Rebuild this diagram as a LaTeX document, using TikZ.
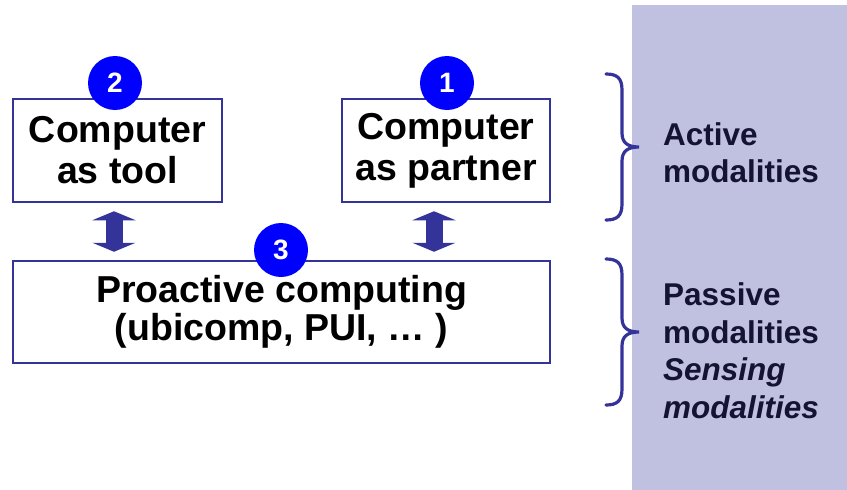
\documentclass[tikz,border=0pt]{standalone}
\usepackage{fontspec}
\setmainfont{Liberation Sans}
\usetikzlibrary{arrows.meta,calc}
\definecolor{boxblue}{HTML}{333399}
\definecolor{numblue}{HTML}{0000FF}
\definecolor{panelfill}{HTML}{C0C0E0}
\definecolor{paneltext}{HTML}{141432}
\begin{document}
\begin{tikzpicture}[x=1pt,y=-1pt,
  box/.style={draw=boxblue,line width=2.5pt,fill=white,inner sep=0pt,align=center,
    font=\fontsize{37.5}{41}\selectfont\bfseries},
  num/.style={circle,fill=numblue,inner sep=0pt,minimum size=54pt,text=white,
    font=\fontsize{28}{28}\selectfont\bfseries},
  dblarrow/.style={draw=boxblue,line width=17pt,
    {Triangle[width=43pt,length=9pt]}-{Triangle[width=43pt,length=9pt]},
    shorten <=8pt,shorten >=8pt},
  brc/.style={draw=boxblue,line width=3.2pt,line cap=round},
  side/.style={anchor=base west,inner sep=0pt,text=paneltext,
    font=\fontsize{31.5}{37}\selectfont\bfseries}]
\useasboundingbox (0,0) rectangle (847,490);
% side panel
\fill[panelfill] (632,5) rectangle (847,490);
% boxes
\node[box,minimum width=209pt,minimum height=103pt] (tool) at (117.5,150.5) {Computer\\as tool};
\node[box,minimum width=208pt,minimum height=103pt] (partner) at (446,150.5) {Computer\\as partner};
\node[box,minimum width=537pt,minimum height=102pt,font=\fontsize{37.5}{38}\selectfont\bfseries] (pro) at (281.5,312) {Proactive computing\\(ubicomp, PUI, … )};
% numbers
\node[num] (n2) at (115,83) {2};
\node[num] (n1) at (447,83) {1};
\node[num] (n3) at (281,250) {3};
% double arrows
\draw[dblarrow] ([xshift=-3.5pt]tool.south) -- ([xshift=-3.5pt]tool.south |- pro.north);
\draw[dblarrow] ([xshift=-12pt]partner.south) -- ([xshift=-12pt]partner.south |- pro.north);
% braces
\coordinate (b1) at (639,147);
\coordinate (b2) at (639,332);
\draw[brc] (606,74) .. controls (617,74) and (622,78) .. (622,90) -- (622,133)
  .. controls (622,143) and (628,147) .. (b1)
  .. controls (628,147) and (622,151) .. (622,161) -- (622,204)
  .. controls (622,216) and (617,220) .. (606,220);
\draw[brc] (606,259) .. controls (617,259) and (622,263) .. (622,275) -- (622,318)
  .. controls (622,328) and (628,332) .. (b2)
  .. controls (628,332) and (622,336) .. (622,346) -- (622,389)
  .. controls (622,401) and (617,405) .. (606,405);
% side labels
\node[side] (act1) at (663,145) {Active};
\node[side] (act2) at (663,182) {modalities};
\node[side] (pas1) at (663,305) {Passive};
\node[side] (pas2) at (663,343) {modalities};
\node[side,font=\fontsize{31.5}{37}\selectfont\bfseries\itshape] (sen1) at (663,380) {Sensing};
\node[side,font=\fontsize{31.5}{37}\selectfont\bfseries\itshape] (sen2) at (663,418) {modalities};
\end{tikzpicture}
\end{document}
